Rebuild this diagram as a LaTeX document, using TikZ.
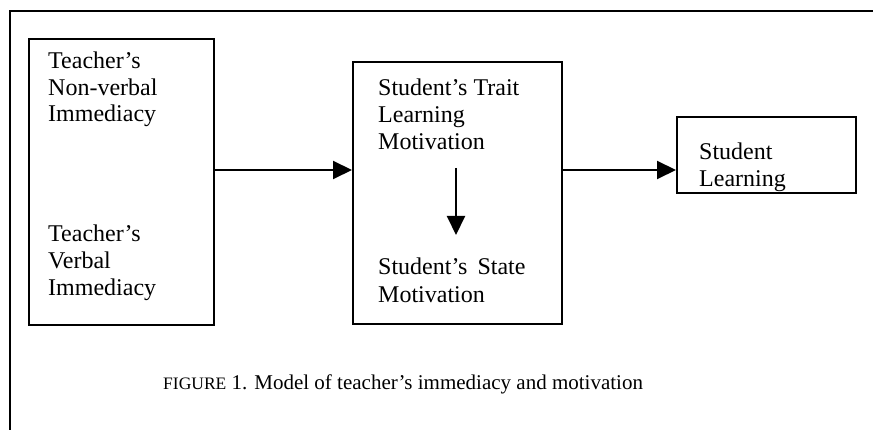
\documentclass[tikz,border=0pt]{standalone}
\usepackage{fontspec}
\setmainfont{Liberation Serif}
\usetikzlibrary{arrows.meta}
\begin{document}
\begin{tikzpicture}[x=1pt,y=-1pt,
  boxstyle/.style={draw, line width=2pt, inner sep=0pt, anchor=north west},
  lbl/.style={anchor=base west, inner sep=0pt, font=\fontsize{24}{27}\selectfont},
  arr/.style={line width=2pt, -{Triangle[length=19pt,width=18pt]}}]
\useasboundingbox (0,0) rectangle (873,430);
\draw[line width=2pt] (873,11) -- (10,11) -- (10,430);
% boxes
\node[boxstyle, minimum width=185pt, minimum height=286pt] (b1) at (28,38) {};
\node[boxstyle, minimum width=209pt, minimum height=262pt] (b2) at (352,61) {};
\node[boxstyle, minimum width=179pt, minimum height=76pt] (b3) at (676,116) {};
% box 1 texts
\node[lbl] (t1a) at (48,69) {Teacher’s};
\node[lbl] (t1b) at (48,96) {Non-verbal};
\node[lbl] (t1c) at (48,122) {Immediacy};
\node[lbl] (t2a) at (48,242) {Teacher’s};
\node[lbl] (t2b) at (48,269) {Verbal};
\node[lbl] (t2c) at (48,296) {Immediacy};
% box 2 texts
\node[lbl] (t3a) at (378,96) {Student’s Trait};
\node[lbl] (t3b) at (378,123) {Learning};
\node[lbl] (t3c) at (378,150) {Motivation};
\node[lbl] (t4a) at (378,275) {Student’s\hspace{4pt} State};
\node[lbl] (t4b) at (378,303) {Motivation};
% box 3 texts
\node[lbl] (t5a) at (699,160) {Student};
\node[lbl] (t5b) at (699,187) {Learning};
% arrows
\coordinate (ay) at (0,170);
\draw[arr] (b1.east |- ay) -- (b2.west |- ay);
\draw[arr] (b2.east |- ay) -- (b3.west |- ay);
\coordinate (va) at (456,168);
\coordinate (vb) at (456,235);
\draw[arr] (va) -- (vb);
% caption
\node[anchor=base west, inner sep=0pt, font=\fontsize{21}{24}\selectfont] (cap) at (163,389)
  {{\fontsize{17.5}{20}\selectfont FIGURE} 1. Model of teacher’s immediacy and motivation};
\end{tikzpicture}
\end{document}
